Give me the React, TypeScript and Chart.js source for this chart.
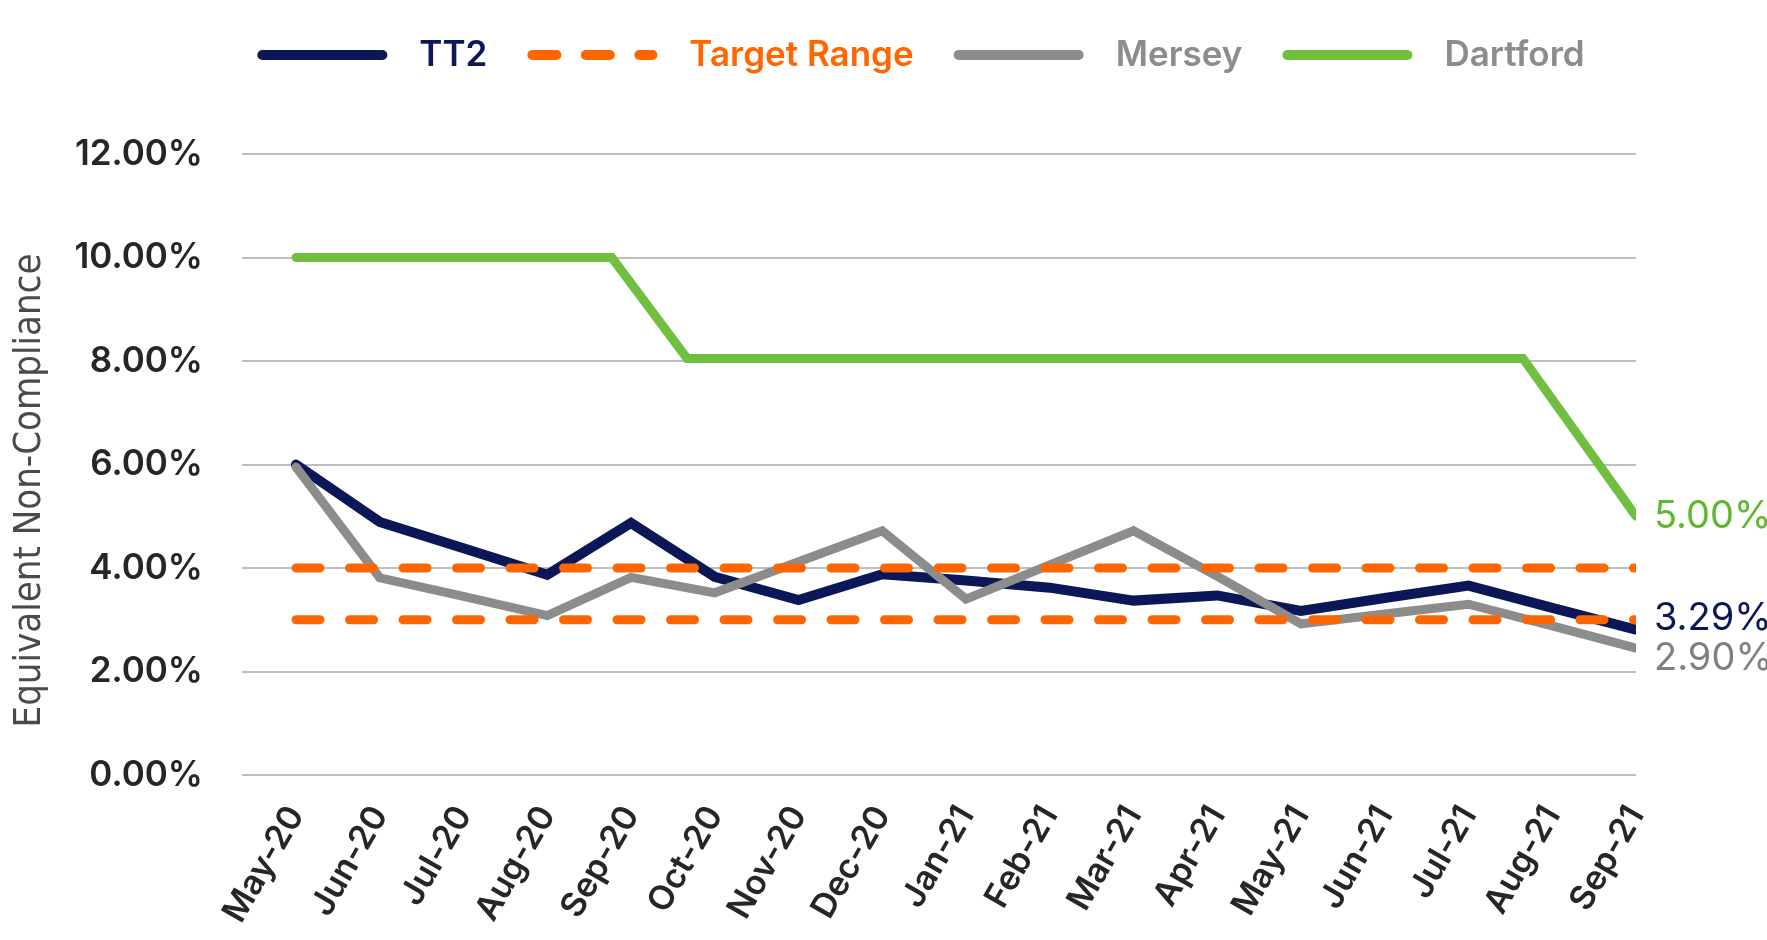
import { useEffect, useRef } from 'react';
import { Chart, registerables } from 'chart.js';

Chart.register(...registerables);

// ---------- data ----------
const months = ['May-20', 'Jun-20', 'Jul-20', 'Aug-20', 'Sep-20', 'Oct-20', 'Nov-20', 'Dec-20', 'Jan-21', 'Feb-21', 'Mar-21', 'Apr-21', 'May-21', 'Jun-21', 'Jul-21', 'Aug-21', 'Sep-21'];
const tt2 = [6.0, 4.89, 4.38, 3.87, 4.87, 3.83, 3.38, 3.88, 3.76, 3.62, 3.37, 3.47, 3.17, 3.42, 3.66, 3.23, 2.81];
const mersey = [5.95, 3.81, 3.45, 3.08, 3.82, 3.52, 4.12, 4.72, 3.40, 4.06, 4.72, 3.84, 2.92, 3.11, 3.30, 2.88, 2.45];
const targetUpper = [4, 4, 4, 4, 4, 4, 4, 4, 4, 4, 4, 4, 4, 4, 4, 4, 4];
const targetLower = [3, 3, 3, 3, 3, 3, 3, 3, 3, 3, 3, 3, 3, 3, 3, 3, 3];
// Dartford changes happen between months: positions given as month index
const dartfordAt = [0, 3.77, 4.67, 14.65, 16];
const dartford = [10, 10, 8.05, 8.05, 5.0];
const yTicks = [0, 2, 4, 6, 8, 10, 12];
const yTitle = 'Equivalent Non-Compliance';
const tt2EndLabel = '3.29%';
const merseyEndLabel = '2.90%';
const dartfordEndLabel = '5.00%';
const legendOrder = ['TT2', 'Target Range', 'Mersey', 'Dartford'];

// ---------- styles ----------
const NAVY = '#0B1756';
const ORANGE = '#FF6600';
const GRAY = '#8C8C8C';
const GREEN = '#70BF41';
const FONT = 'Inter, "Noto Sans", sans-serif';

const legendPlugin = {
  id: 'customLegend',
  afterDraw(chart: any) {
    const ctx = chart.ctx;
    const lineLen = 130;
    const lw = 10;
    const gapText = 32;
    const gapItem = 40;
    const centerX = 921;
    const cy = 55;
    ctx.save();
    ctx.font = `600 35px ${FONT}`;
    const items = legendOrder.map((name) => {
      const ds = chart.data.datasets.find((d: any) => d.label === name);
      return { name, ds, tw: ctx.measureText(name).width };
    });
    const total = items.reduce((s: number, it: any) => s + lineLen + gapText + it.tw, 0) + gapItem * (items.length - 1);
    let x = centerX - total / 2;
    items.forEach((it: any) => {
      ctx.beginPath();
      ctx.lineWidth = lw;
      ctx.lineCap = 'round';
      ctx.strokeStyle = it.ds.borderColor;
      ctx.setLineDash(it.ds.borderDash || []);
      ctx.moveTo(x + lw / 2, cy);
      ctx.lineTo(x + lineLen - lw / 2, cy);
      ctx.stroke();
      ctx.setLineDash([]);
      ctx.fillStyle = it.ds.legendTextColor;
      ctx.textAlign = 'left';
      ctx.textBaseline = 'middle';
      ctx.fillText(it.name, x + lineLen + gapText, cy);
      x += lineLen + gapText + it.tw + gapItem;
    });
    ctx.restore();
  },
};

const yTitlePlugin = {
  id: 'yTitle',
  afterDraw(chart: any) {
    const ctx = chart.ctx;
    const area = chart.chartArea;
    ctx.save();
    ctx.translate(30, (area.top + area.bottom) / 2 + 26);
    ctx.rotate(-Math.PI / 2);
    ctx.font = `400 38px "Liberation Sans Narrow", "DejaVu Sans Condensed", sans-serif`;
    ctx.fillStyle = '#4a4a4a';
    ctx.textAlign = 'center';
    ctx.textBaseline = 'middle';
    ctx.fillText(yTitle, 0, 0);
    ctx.restore();
  },
};

const endLabelPlugin = {
  id: 'endLabels',
  afterDatasetsDraw(chart: any) {
    const ctx = chart.ctx;
    ctx.save();
    ctx.font = `400 38px ${FONT}`;
    ctx.textAlign = 'left';
    ctx.textBaseline = 'middle';
    chart.data.datasets.forEach((ds: any, i: number) => {
      if (!ds.endLabel) return;
      const meta = chart.getDatasetMeta(i);
      const last = meta.data[meta.data.length - 1];
      ctx.fillStyle = ds.endLabelColor;
      ctx.fillText(ds.endLabel, last.x + 18, last.y + (ds.endLabelShift || 0));
    });
    ctx.restore();
  },
};

export default function App() {
  const ref = useRef<HTMLCanvasElement | null>(null);

  useEffect(() => {
    document.body.style.margin = '0';
    const canvas = ref.current;
    if (!canvas) return;
    const dash = [24, 29.5];
    const lineBase = {
      pointRadius: 0,
      pointHoverRadius: 0,
      tension: 0,
      fill: false,
      borderCapStyle: 'round',
      borderJoinStyle: 'miter',
    };
    const chart = new Chart(canvas, {
      type: 'line',
      data: {
        datasets: [
          {
            ...lineBase,
            label: 'Target Range',
            data: targetUpper.map((y, i) => ({ x: i, y })),
            borderColor: ORANGE,
            borderWidth: 9,
            borderDash: dash,
            legendTextColor: ORANGE,
          },
          {
            ...lineBase,
            label: 'Target Range (lower)',
            data: targetLower.map((y, i) => ({ x: i, y })),
            borderColor: ORANGE,
            borderWidth: 9,
            borderDash: dash,
          },
          {
            ...lineBase,
            label: 'Mersey',
            data: mersey.map((y, i) => ({ x: i, y })),
            borderColor: GRAY,
            borderWidth: 9,
            legendTextColor: GRAY,
            endLabel: merseyEndLabel,
            endLabelColor: '#808080',
            endLabelShift: 10,
          },
          {
            ...lineBase,
            label: 'TT2',
            data: tt2.map((y, i) => ({ x: i, y })),
            borderColor: NAVY,
            borderWidth: 10,
            legendTextColor: NAVY,
            endLabel: tt2EndLabel,
            endLabelColor: NAVY,
            endLabelShift: -11,
          },
          {
            ...lineBase,
            label: 'Dartford',
            data: dartford.map((y, i) => ({ x: dartfordAt[i], y })),
            borderColor: GREEN,
            borderWidth: 9,
            legendTextColor: GRAY,
            endLabel: dartfordEndLabel,
            endLabelColor: '#5DB92C',
            endLabelShift: 0,
          },
        ] as any,
      },
      options: {
        responsive: false,
        animation: false,
        devicePixelRatio: 1,
        layout: { padding: { left: 0, right: 131, top: 154, bottom: 0 } },
        plugins: {
          legend: { display: false },
          tooltip: { enabled: false },
        },
        scales: {
          x: {
            type: 'linear',
            min: -0.645,
            max: 16,
            afterBuildTicks: (s: any) => {
              s.ticks = months.map((_, i) => ({ value: i }));
            },
            afterFit: (s: any) => {
              s.height = 165;
            },
            ticks: {
              autoSkip: false,
              minRotation: 60,
              maxRotation: 60,
              padding: 24,
              color: '#262626',
              font: { family: FONT, size: 34, weight: '600' },
              callback: (v: any) => months[Math.round(Number(v))] ?? '',
            },
            grid: { display: false, drawTicks: false },
            border: { display: false },
          },
          y: {
            min: 0,
            max: 12,
            afterBuildTicks: (s: any) => {
              s.ticks = yTicks.map((v) => ({ value: v }));
            },
            afterFit: (s: any) => {
              s.width = 242;
            },
            ticks: {
              padding: 39,
              color: '#262626',
              font: { family: FONT, size: 35, weight: '600' },
              callback: (v: any) => Number(v).toFixed(2) + '%',
            },
            grid: { color: '#BFBFBF', lineWidth: 2, drawTicks: false },
            border: { display: false },
          },
        },
      } as any,
      plugins: [legendPlugin, yTitlePlugin, endLabelPlugin],
    });
    return () => chart.destroy();
  }, []);

  return (
    <div style={{ width: 1767, height: 940, background: '#ffffff' }}>
      <canvas ref={ref} width={1767} height={940} />
    </div>
  );
}
